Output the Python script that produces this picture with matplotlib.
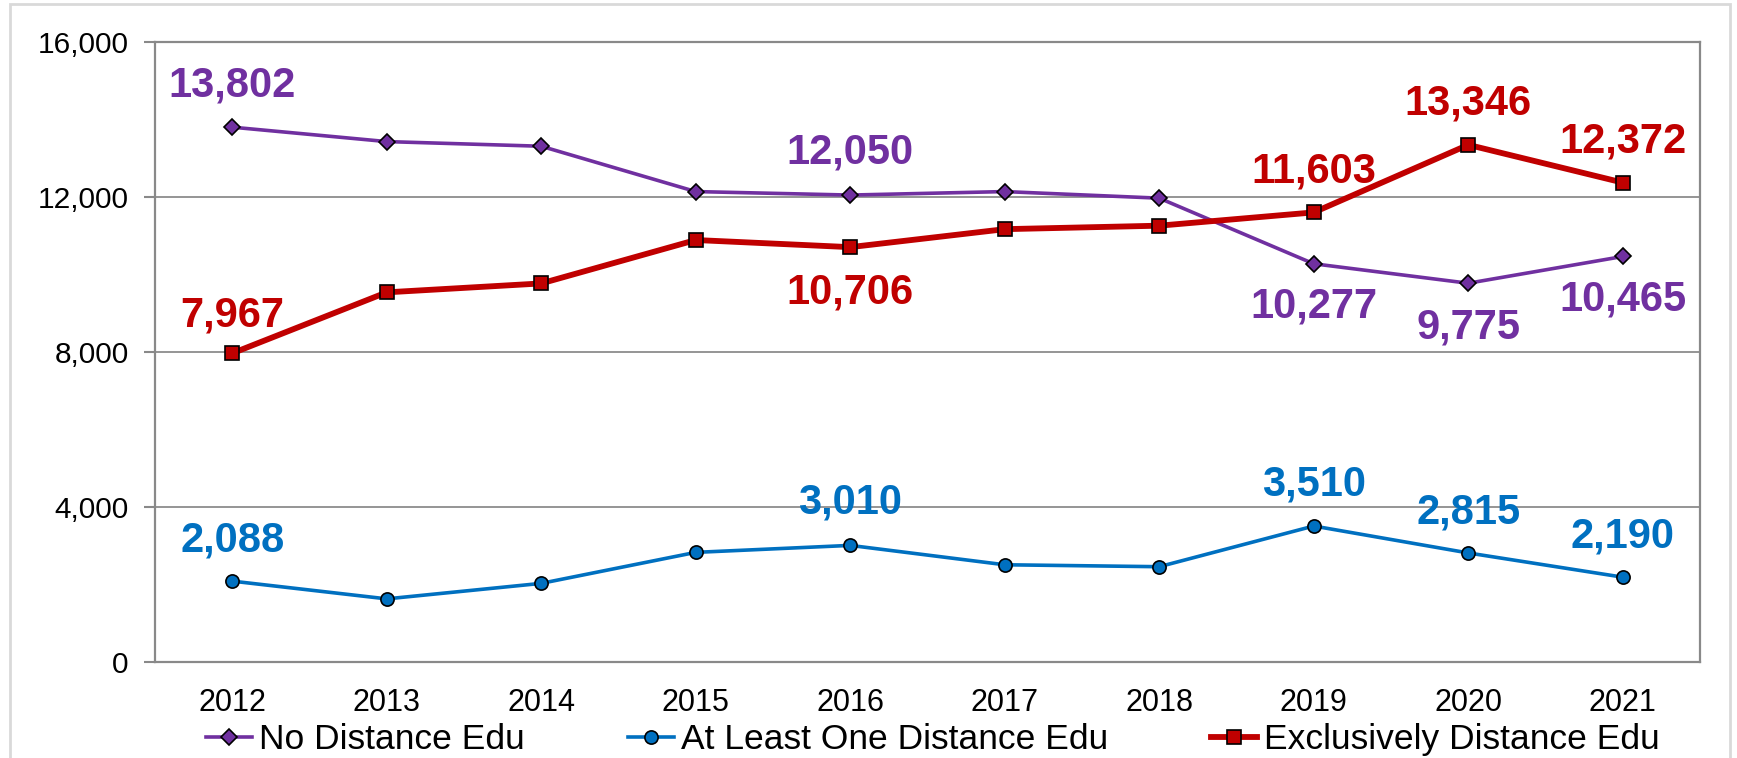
import matplotlib
matplotlib.use("Agg")
import matplotlib.pyplot as plt
from matplotlib.patches import Rectangle

years = ['2012', '2013', '2014', '2015', '2016', '2017', '2018', '2019', '2020', '2021']
no_dist = [13802, 13430, 13310, 12140, 12050, 12140, 11970, 10277, 9775, 10465]
at_least_one = [2088, 1630, 2030, 2830, 3010, 2510, 2460, 3510, 2815, 2190]
exclusively = [7967, 9540, 9770, 10890, 10706, 11170, 11260, 11603, 13346, 12372]
series_names = ['No Distance Edu', 'At Least One Distance Edu', 'Exclusively Distance Edu']

plt.rcParams['font.family'] = ['Liberation Sans', 'DejaVu Sans']

fig = plt.figure(figsize=(17.37, 7.58), dpi=100)
ax = fig.add_axes([0.0892, 0.1266, 0.8895, 0.818])

x = list(range(len(years)))
purple, blue, red = '#7030A0', '#0070C0', '#C00000'

l1, = ax.plot(x, no_dist, color=purple, lw=2.6, marker='D', ms=8,
              mfc=purple, mec='black', mew=1.2, zorder=3)
l2, = ax.plot(x, at_least_one, color=blue, lw=2.6, marker='o', ms=9.5,
              mfc=blue, mec='black', mew=1.2, zorder=3)
l3, = ax.plot(x, exclusively, color=red, lw=4.2, marker='s', ms=10,
              mfc=red, mec='black', mew=1.2, zorder=3)

# which points carry a label, and above (+) / below (-)
label_spec = [
    (no_dist, purple, {0: 30, 4: 31, 7: -31, 8: -32, 9: -31}),
    (at_least_one, blue, {0: 29, 4: 31, 7: 30, 8: 29, 9: 29}),
    (exclusively, red, {0: 27, 4: -33, 7: 29.5, 8: 29.5, 9: 29.5}),
]
for vals, col, spec in label_spec:
    for i, off in spec.items():
        ax.annotate(f'{vals[i]:,}', (x[i], vals[i]), xytext=(0, off),
                    textcoords='offset points', ha='center', va='center',
                    fontsize=30, fontweight='bold', color=col)

ax.set_xlim(-0.5, 9.5)
ax.set_ylim(0, 16000)
ax.set_yticks([0, 4000, 8000, 12000, 16000])
ax.set_yticklabels([f'{v:,}' for v in [0, 4000, 8000, 12000, 16000]])
ax.set_xticks(x)
ax.set_xticklabels(years)
ax.tick_params(axis='y', length=8, width=1.5, color='#898989', pad=11, labelsize=21.5)
ax.tick_params(axis='x', length=0, pad=19, labelsize=22)
ax.grid(axis='y', color='#8c8c8c', lw=1.3)
ax.set_axisbelow(True)
for s in ax.spines.values():
    s.set_color('#898989')
    s.set_linewidth(1.6)

fig.legend([l1, l2, l3], series_names, loc='center', ncol=3,
           bbox_to_anchor=(0.537, 0.024), frameon=False, fontsize=25.5,
           handlelength=1.3, handletextpad=0.2, columnspacing=2.9,
           borderpad=0)

fig.add_artist(Rectangle((0.006, -0.1), 0.99, 1.095, transform=fig.transFigure,
                         fill=False, edgecolor='#d9d9d9', lw=2))

fig.savefig('out.png', dpi=100)
